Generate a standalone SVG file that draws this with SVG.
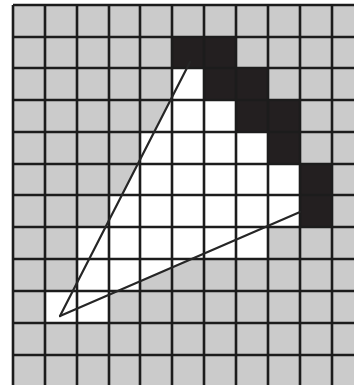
<svg xmlns="http://www.w3.org/2000/svg" width="354" height="385" viewBox="0 0 354 385">
<style>
.w{fill:#ffffff}
.k{fill:#231f20}
.g line{stroke:#1c1c1c;stroke-width:2.6}
.e{stroke:#6a6a6a;stroke-width:2.2}
.ray{stroke:#262626;stroke-width:2.2;fill:none;stroke-linecap:round}
</style>
<rect x="0" y="0" width="354" height="385" fill="#ffffff"/>
<rect x="13" y="5" width="341" height="380" fill="#cbcbcb"/>
<g id="white-cells">
<rect class="w" x="172" y="68" width="32" height="32"/>
<rect class="w" x="172" y="100" width="64" height="32"/>
<rect class="w" x="140" y="132" width="128" height="32"/>
<rect class="w" x="140" y="164" width="160" height="31"/>
<rect class="w" x="109" y="195" width="191" height="32"/>
<rect class="w" x="77" y="227" width="191" height="32"/>
<rect class="w" x="77" y="259" width="63" height="32"/>
<rect class="w" x="45" y="291" width="64" height="32"/>
<polygon class="w" points="60,316 190,62 300,212"/>
</g>
<g id="black-cells">
<rect class="k" x="172" y="37" width="64" height="31"/>
<rect class="k" x="204" y="68" width="64" height="32"/>
<rect class="k" x="236" y="100" width="64" height="32"/>
<rect class="k" x="268" y="132" width="32" height="32"/>
<rect class="k" x="300" y="164" width="32" height="63"/>
</g>
<g id="grid" class="g">
<line x1="45" y1="5" x2="45" y2="385"/>
<line x1="77" y1="5" x2="77" y2="385"/>
<line x1="109" y1="5" x2="109" y2="385"/>
<line x1="140" y1="5" x2="140" y2="385"/>
<line x1="172" y1="5" x2="172" y2="385"/>
<line x1="204" y1="5" x2="204" y2="385"/>
<line x1="236" y1="5" x2="236" y2="385"/>
<line x1="268" y1="5" x2="268" y2="385"/>
<line x1="300" y1="5" x2="300" y2="385"/>
<line x1="332" y1="5" x2="332" y2="385"/>
<line x1="13" y1="37" x2="354" y2="37"/>
<line x1="13" y1="68" x2="354" y2="68"/>
<line x1="13" y1="100" x2="354" y2="100"/>
<line x1="13" y1="132" x2="354" y2="132"/>
<line x1="13" y1="164" x2="354" y2="164"/>
<line x1="13" y1="195" x2="354" y2="195"/>
<line x1="13" y1="227" x2="354" y2="227"/>
<line x1="13" y1="259" x2="354" y2="259"/>
<line x1="13" y1="291" x2="354" y2="291"/>
<line x1="13" y1="323" x2="354" y2="323"/>
<line x1="13" y1="355" x2="354" y2="355"/>
<line class="e" x1="13" y1="5" x2="13" y2="385"/>
<line class="e" x1="13" y1="5" x2="354" y2="5"/>
</g>
<g id="connectors">
<line class="ray" x1="60" y1="316" x2="190" y2="62"/>
<line class="ray" x1="60" y1="316" x2="300" y2="212"/>
</g>
</svg>
